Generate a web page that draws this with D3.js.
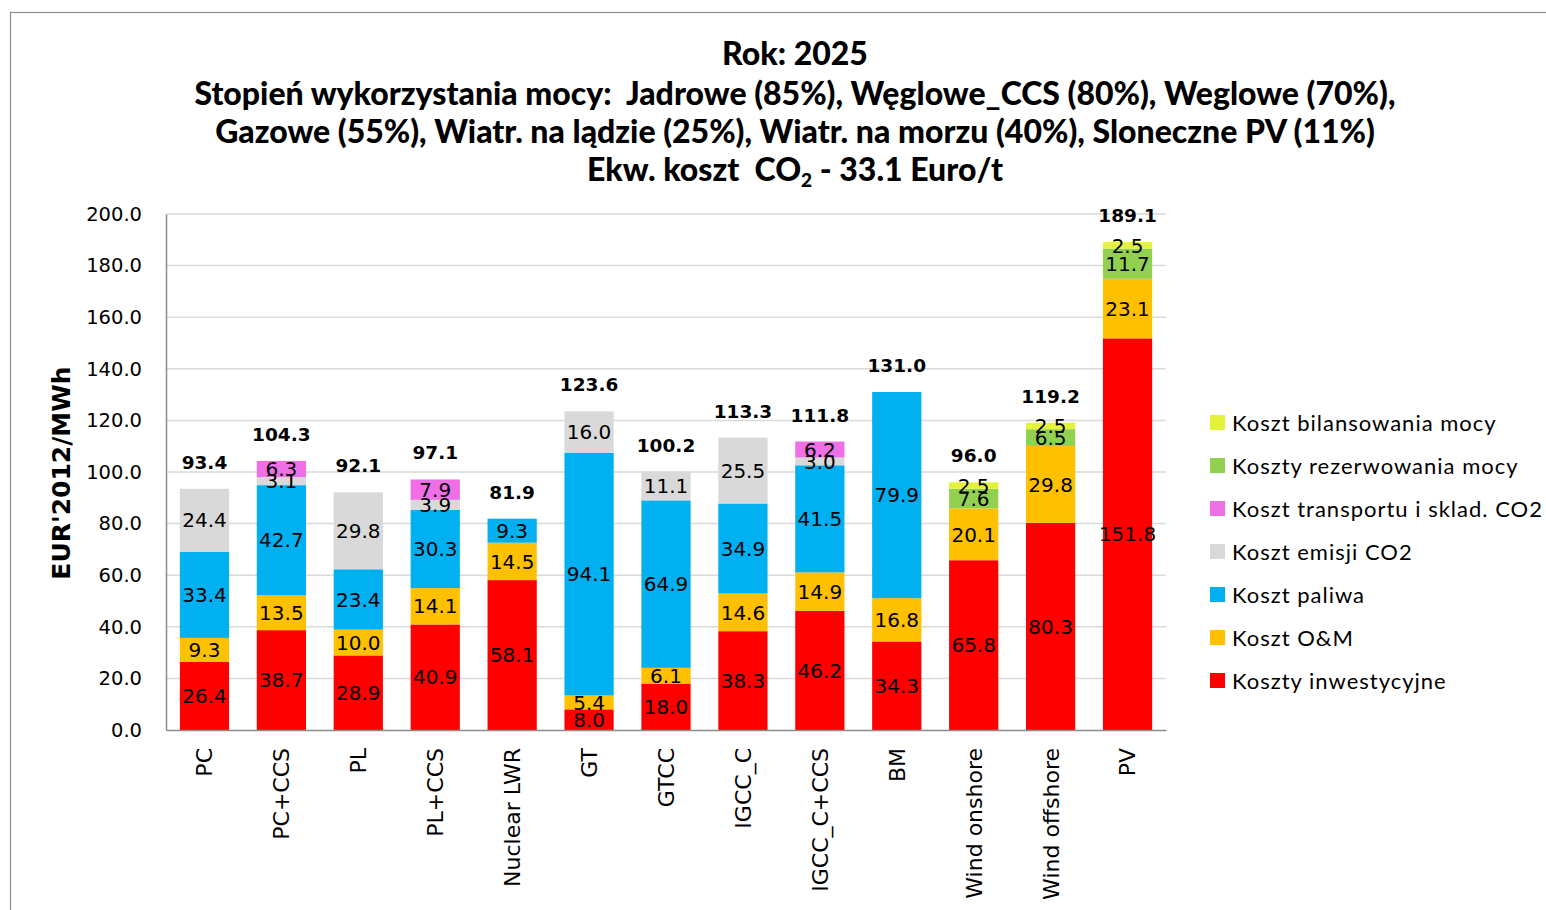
<!DOCTYPE html>
<html><head><meta charset="utf-8">
<script src="https://cdn.jsdelivr.net/npm/d3@7"></script>
<style>body{margin:0;background:#fff;}svg{display:block;}</style>
</head><body>
<svg id="c" width="1546" height="910"></svg>
<script>
const categories = ["PC","PC+CCS","PL","PL+CCS","Nuclear LWR","GT","GTCC","IGCC_C","IGCC_C+CCS","BM","Wind onshore","Wind offshore","PV"];
const seriesNames = ["Koszty inwestycyjne","Koszt O&M","Koszt paliwa","Koszt emisji CO2","Koszt transportu i sklad. CO2","Koszty rezerwowania mocy","Koszt bilansowania mocy"];
const seriesColors = ["#ff0000","#ffc000","#00b0f0","#d9d9d9","#ee6fe6","#92d050","#e4f23a"];
const inwestycyjne = [26.4,38.7,28.9,40.9,58.1,8.0,18.0,38.3,46.2,34.3,65.8,80.3,151.8];
const om          = [9.3,13.5,10.0,14.1,14.5,5.4,6.1,14.6,14.9,16.8,20.1,29.8,23.1];
const paliwo      = [33.4,42.7,23.4,30.3,9.3,94.1,64.9,34.9,41.5,79.9,0,0,0];
const emisja      = [24.4,3.1,29.8,3.9,0,16.0,11.1,25.5,3.0,0,0,0,0];
const transport   = [0,6.3,0,7.9,0,0,0,0,6.2,0,0,0,0];
const rezerwa     = [0,0,0,0,0,0,0,0,0,0,7.6,6.5,11.7];
const bilans      = [0,0,0,0,0,0,0,0,0,0,2.5,2.5,2.5];
const totals      = [93.4,104.3,92.1,97.1,81.9,123.6,100.2,113.3,111.8,131.0,96.0,119.2,189.1];
const yTicks = [0,20,40,60,80,100,120,140,160,180,200];

(function(){
const seriesValues = [inwestycyjne, om, paliwo, emisja, transport, rezerwa, bilans];
const table = categories.map((c,i)=>{const o={cat:c}; seriesNames.forEach((s,j)=>o[s]=seriesValues[j][i]); return o;});

const svg = d3.select("#c");
svg.append("rect").attr("x",10.5).attr("y",12.5).attr("width",1600).attr("height",1000)
  .attr("fill","none").attr("stroke","#8c8c8c").attr("stroke-width",1.2);

const pL=166, pR=1166, pT=214, pB=730;
const x = d3.scaleBand().domain(categories).range([pL,pR]).paddingInner(0.36).paddingOuter(0.18);
const y = d3.scaleLinear().domain([0,200]).range([pB,pT]);

svg.append("g").selectAll("line").data(yTicks.filter(d=>d>0)).join("line")
  .attr("x1",pL).attr("x2",pR).attr("y1",d=>y(d)).attr("y2",d=>y(d))
  .attr("stroke","#d9d9d9").attr("stroke-width",1.5);

const ya = svg.append("g").attr("transform",`translate(${pL},0)`)
  .call(d3.axisLeft(y).tickValues(yTicks).tickFormat(d3.format(".1f")).tickSize(0).tickPadding(24));
ya.select(".domain").attr("stroke","#8c8c8c").attr("stroke-width",1.5);
ya.selectAll("text").attr("font-family","DejaVu Sans").attr("font-size",19.5).attr("fill","#000");

const stack = d3.stack().keys(seriesNames)(table);
const g = svg.append("g");
stack.forEach((layer,j)=>{
  g.append("g").attr("fill",seriesColors[j]).selectAll("rect").data(layer).join("rect")
    .attr("x",d=>x(d.data.cat)).attr("width",x.bandwidth())
    .attr("y",d=>y(d[1])).attr("height",d=>y(d[0])-y(d[1]));
});
stack.forEach((layer,j)=>{
  g.append("g").selectAll("text").data(layer.filter(d=>d[1]-d[0]>0)).join("text")
    .attr("x",d=>x(d.data.cat)+x.bandwidth()/2).attr("y",d=>y((d[0]+d[1])/2))
    .attr("dy","0.36em").attr("text-anchor","middle")
    .attr("font-family","DejaVu Sans").attr("font-size",20).attr("fill","#000")
    .text(d=>d3.format(".1f")(d[1]-d[0]));
});
svg.append("g").selectAll("text").data(categories).join("text")
  .attr("x",d=>x(d)+x.bandwidth()/2).attr("y",(d,i)=>y(d3.sum(seriesValues,s=>s[i]))-20)
  .attr("text-anchor","middle").attr("font-family","DejaVu Sans").attr("font-weight","bold")
  .attr("font-size",18.5).text((d,i)=>d3.format(".1f")(totals[i]));

const xa = svg.append("g").attr("transform",`translate(0,${pB})`)
  .call(d3.axisBottom(x).tickSize(0).tickPadding(0));
xa.select(".domain").attr("stroke","#8c8c8c").attr("stroke-width",1.5);
xa.selectAll("text").attr("font-family","DejaVu Sans").attr("font-size",22).attr("fill","#000")
  .attr("text-anchor","end").attr("transform","rotate(-90)").attr("x",-18).attr("y",0).attr("dy","0.36em");

svg.append("text").attr("transform","translate(70,473) rotate(-90)").attr("text-anchor","middle")
  .attr("font-family","DejaVu Sans").attr("font-weight","bold").attr("font-size",25).text("EUR'2012/MWh");

const tl = ["Rok: 2025",
 "Stopień wykorzystania mocy:  Jadrowe (85%), Węglowe_CCS (80%), Weglowe (70%),",
 "Gazowe (55%), Wiatr. na lądzie (25%), Wiatr. na morzu (40%), Sloneczne PV (11%)"];
const tys=[65,105,143];
tl.forEach((t,i)=>svg.append("text").attr("x",795).attr("y",tys[i]).attr("text-anchor","middle")
  .attr("font-family","Lato").attr("font-weight","900").attr("font-size",32)
  .attr("xml:space","preserve").text(t));
const t4 = svg.append("text").attr("x",795).attr("y",181).attr("text-anchor","middle")
  .attr("font-family","Lato").attr("font-weight","900").attr("font-size",32).attr("xml:space","preserve");
t4.append("tspan").text("Ekw. koszt  CO");
t4.append("tspan").attr("font-size",19).attr("dy",6).text("2");
t4.append("tspan").attr("dy",-6).text(" - 33.1 Euro/t");

const lg = svg.append("g");
const order = seriesNames.map((s,i)=>i).reverse();
order.forEach((j,k)=>{
  const yy = 423 + k*43;
  lg.append("rect").attr("x",1210).attr("y",yy-8).attr("width",15).attr("height",15).attr("fill",seriesColors[j]);
  lg.append("text").attr("x",1232).attr("y",yy).attr("dy","0.36em").attr("font-family","Lato")
    .attr("font-size",22).attr("letter-spacing",1).attr("fill","#000").text(seriesNames[j]);
});
})();
</script>
</body></html>
